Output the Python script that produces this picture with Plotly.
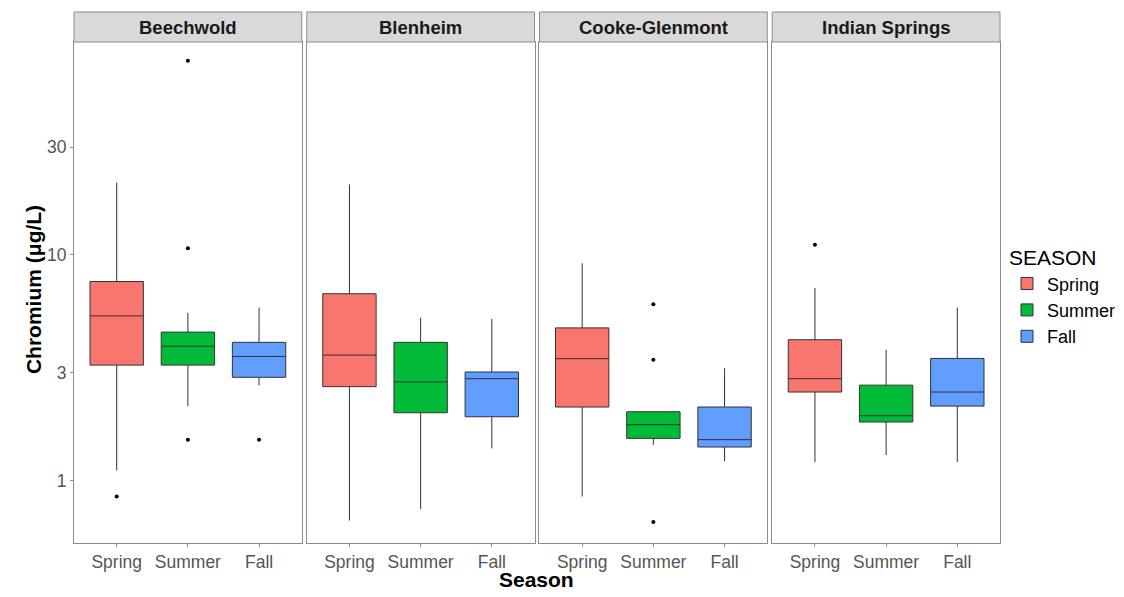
import plotly.graph_objects as go
import math

sites = ["Beechwold", "Blenheim", "Cooke-Glenmont", "Indian Springs"]
seasons = ["Spring", "Summer", "Fall"]
colors = ["#F8766D", "#00BA38", "#619CFF"]

# per site: lists in season order (Spring, Summer, Fall)
lower = {
    "Beechwold":      [1.11, 2.14, 2.64],
    "Blenheim":       [0.667, 0.75, 1.39],
    "Cooke-Glenmont": [0.851, 1.44, 1.22],
    "Indian Springs": [1.21, 1.30, 1.21],
}
q1 = {
    "Beechwold":      [3.25, 3.25, 2.87],
    "Blenheim":       [2.61, 2.00, 1.92],
    "Cooke-Glenmont": [2.12, 1.54, 1.41],
    "Indian Springs": [2.47, 1.82, 2.14],
}
median = {
    "Beechwold":      [5.37, 3.94, 3.55],
    "Blenheim":       [3.60, 2.74, 2.83],
    "Cooke-Glenmont": [3.47, 1.77, 1.52],
    "Indian Springs": [2.83, 1.94, 2.47],
}
q3 = {
    "Beechwold":      [7.62, 4.55, 4.10],
    "Blenheim":       [6.73, 4.10, 3.03],
    "Cooke-Glenmont": [4.75, 2.02, 2.12],
    "Indian Springs": [4.21, 2.65, 3.48],
}
upper = {
    "Beechwold":      [20.9, 5.54, 5.85],
    "Blenheim":       [20.5, 5.27, 5.21],
    "Cooke-Glenmont": [9.18, 2.02, 3.15],
    "Indian Springs": [7.13, 3.79, 5.85],
}
outliers = {
    "Beechwold":      [[0.851], [72.3, 10.7, 1.52], [1.52]],
    "Blenheim":       [[], [], []],
    "Cooke-Glenmont": [[], [6.04, 3.43, 0.656], []],
    "Indian Springs": [[11.1], [], []],
}

ytickvals = [1, 3, 10, 30]
ylim = [0.53, 87.6]

OFF = 8  # default page body margin
W, H = 1124 - OFF, 597 - OFF
plot_left, plot_right = 74 - OFF, 1001 - OFF
plot_top, plot_bottom = 12 - OFF, 543 - OFF
ml, mr, mt, mb = plot_left, W - plot_right, plot_top, H - plot_bottom
pw = W - ml - mr
ph = H - mt - mb
panel_px = 228
gap_px = 5
strip_px = 30
ytop = (ph - strip_px) / ph


def px_x(sx):
    return (sx - OFF - ml) / pw


def px_y(sy):
    return (H - mb - (sy - OFF)) / ph


FONT = "Liberation Sans, Arial"
fig = go.Figure()
layout = {}
shapes = []
annotations = []
for i, site in enumerate(sites):
    x0 = i * (panel_px + gap_px) / pw
    x1 = (i * (panel_px + gap_px) + panel_px) / pw
    xa = "x" if i == 0 else f"x{i+1}"
    ya = "y" if i == 0 else f"y{i+1}"
    for j, s in enumerate(seasons):
        fig.add_trace(go.Box(
            x=[s], q1=[q1[site][j]], median=[median[site][j]], q3=[q3[site][j]],
            lowerfence=[lower[site][j]], upperfence=[upper[site][j]],
            fillcolor=colors[j], line=dict(color="#333333", width=1),
            width=0.75, whiskerwidth=0, boxpoints=False,
            name=s, legendgroup="seasons", showlegend=(i == 0),
            xaxis=xa, yaxis=ya,
        ))
        if outliers[site][j]:
            fig.add_trace(go.Scatter(
                x=[s] * len(outliers[site][j]), y=outliers[site][j], mode="markers",
                marker=dict(color="black", size=4), showlegend=False,
                xaxis=xa, yaxis=ya, hoverinfo="skip",
            ))
    kx = "xaxis" if i == 0 else f"xaxis{i+1}"
    ky = "yaxis" if i == 0 else f"yaxis{i+1}"
    layout[kx] = dict(
        domain=[x0, x1], anchor=ya, type="category",
        categoryorder="array", categoryarray=seasons,
        range=[-0.6, 2.6], showline=True, mirror=True, linecolor="#8c8c8c",
        linewidth=1, showgrid=False, zeroline=False,
        ticks="outside", ticklen=3, tickcolor="#8c8c8c",
        tickfont=dict(family=FONT, size=17.5, color="#555555"),
    )
    layout[ky] = dict(
        domain=[0, ytop], anchor=xa, type="log",
        range=[math.log10(ylim[0]), math.log10(ylim[1])],
        showline=True, mirror=True, linecolor="#8c8c8c", linewidth=1,
        showgrid=False, zeroline=False,
        tickvals=ytickvals, ticktext=[str(v) for v in ytickvals],
        showticklabels=(i == 0), ticks="outside" if i == 0 else "",
        ticklen=3, tickcolor="#8c8c8c",
        tickfont=dict(family=FONT, size=17.5, color="#555555"),
    )
    if i > 0:
        layout[ky]["matches"] = "y"
    shapes.append(dict(type="rect", xref="paper", yref="paper",
                       x0=x0, x1=x1, y0=ytop, y1=1,
                       fillcolor="#D9D9D9", line=dict(color="#8c8c8c", width=1)))
    annotations.append(dict(text=f"<b>{site}</b>", xref="paper", yref="paper",
                            x=(x0 + x1) / 2, y=(ytop + 1) / 2, showarrow=False,
                            xanchor="center", yanchor="middle",
                            font=dict(family=FONT, size=18.5, color="#1a1a1a")))

annotations.append(dict(text="<b>Season</b>", xref="paper", yref="paper",
                        x=px_x(537), y=px_y(579), showarrow=False,
                        xanchor="center", yanchor="middle",
                        font=dict(family=FONT, size=21, color="black")))
annotations.append(dict(text="<b>Chromium (μg/L)</b>", xref="paper", yref="paper",
                        x=px_x(33), y=px_y(290), showarrow=False,
                        textangle=-90, xanchor="center", yanchor="middle",
                        font=dict(family=FONT, size=21, color="black")))

fig.update_layout(
    **layout,
    width=W, height=H,
    margin=dict(l=ml, r=mr, t=mt, b=mb),
    plot_bgcolor="white", paper_bgcolor="white",
    shapes=shapes, annotations=annotations,
    boxmode="overlay",
    legend=dict(
        title=dict(text="SEASON", font=dict(family=FONT, size=21, color="black")),
        font=dict(family=FONT, size=18, color="black"),
        x=px_x(1007), xanchor="left",
        y=px_y(238), yanchor="top",
        itemwidth=30, tracegroupgap=0, bgcolor="rgba(0,0,0,0)",
    ),
)

fig.write_html("out.html")
